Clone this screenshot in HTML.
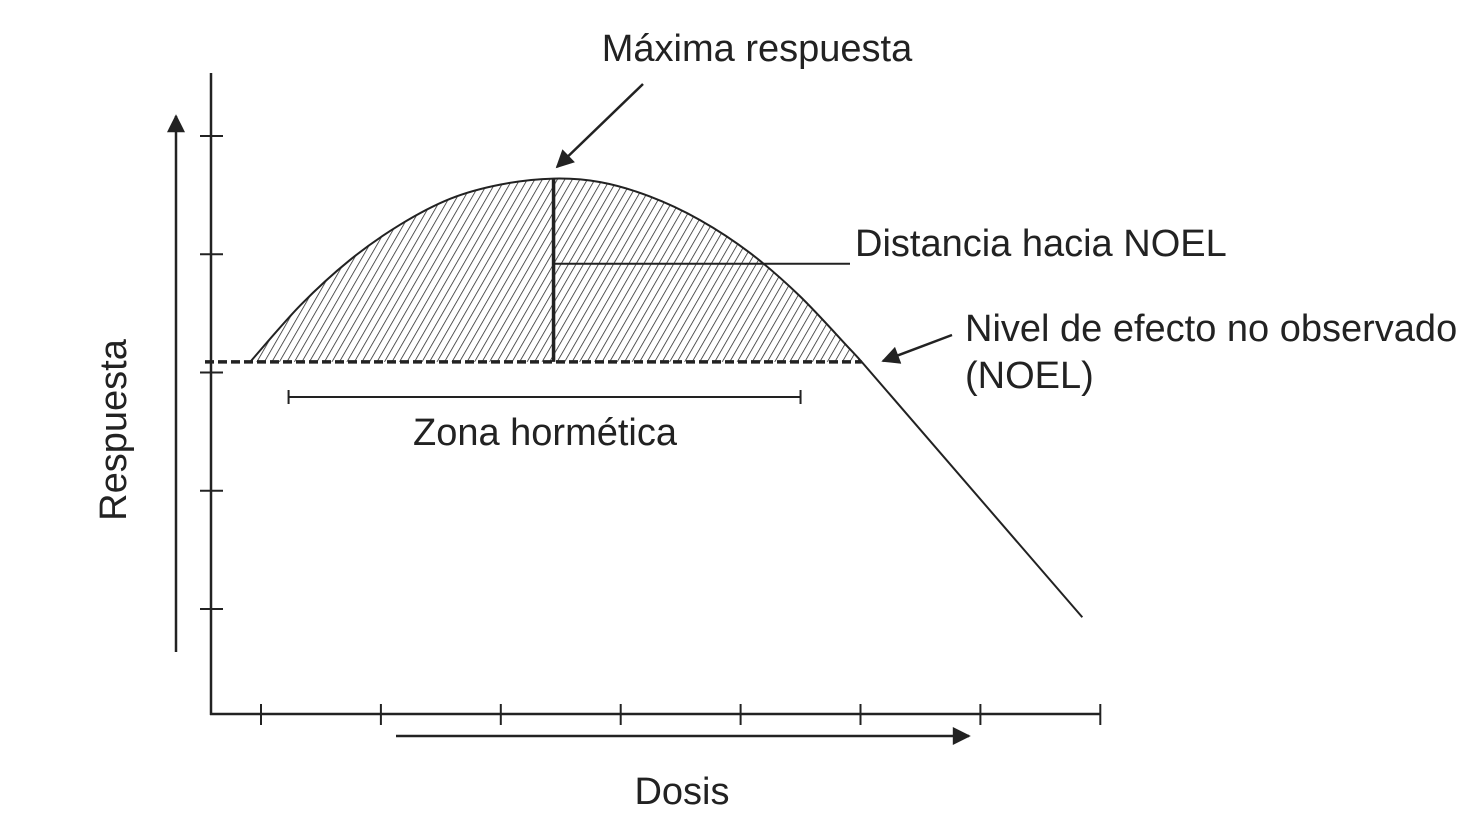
<!DOCTYPE html>
<html><head><meta charset="utf-8"><style>
html,body{margin:0;padding:0;background:#fff;}
svg{display:block;}
text{font-family:"Liberation Sans",Arial,sans-serif;fill:#222;font-size:38px;}
</style></head><body>
<svg id="chart" width="1470" height="822" viewBox="0 0 1470 822">
<defs>
<pattern id="hatch" patternUnits="userSpaceOnUse" width="6.5" height="6.5" patternTransform="rotate(30)">
<line x1="0" y1="0" x2="0" y2="6.5" stroke="#222" stroke-width="1.5"/>
</pattern>
<marker id="ah2" viewBox="0 0 10 10" refX="9" refY="5" markerWidth="24" markerHeight="18" orient="auto" markerUnits="userSpaceOnUse">
<path d="M0,0 L10,5 L0,10 z" fill="#222"/></marker>
</defs>
<g id="layer"></g>
</svg>
<script>
const doses=[0.91,1.33,1.74,2.16,2.58,3.0,3.44,3.83,4.24,4.66,5.08,5.49,5.91,6.01,7.85];
const responses=[2.09,2.57,2.95,3.25,3.47,3.59,3.64,3.61,3.49,3.29,3.01,2.65,2.20,2.09,-0.07];
const xTicks=[1,2,3,4,5,6,7,8];
const yTicks=[0,1,2,3,4];
const noel=2.09;
const peakDose=3.44;
const peakResp=3.64;
const distResp=2.92;
const zoneStart=1.23, zoneEnd=5.5;

const X=d=>261+(d-1)*119.9;
const Y=r=>609-r*118.25;
const NS='http://www.w3.org/2000/svg';
const g=document.getElementById('layer');
function mk(tag,attrs,txt){const e=document.createElementNS(NS,tag);for(const k in attrs)e.setAttribute(k,attrs[k]);if(txt)e.textContent=txt;g.appendChild(e);return e;}

function spline(P){
  let s='M'+P[0][0]+','+P[0][1];
  for(let i=0;i<P.length-1;i++){
    const p0=P[Math.max(i-1,0)],p1=P[i],p2=P[i+1],p3=P[Math.min(i+2,P.length-1)];
    const c1=[p1[0]+(p2[0]-p0[0])/6,p1[1]+(p2[1]-p0[1])/6];
    const c2=[p2[0]-(p3[0]-p1[0])/6,p2[1]-(p3[1]-p1[1])/6];
    s+=`C${c1[0]},${c1[1]} ${c2[0]},${c2[1]} ${p2[0]},${p2[1]}`;
  }
  return s;
}
const arcPts=[],allPts=[];
doses.forEach((v,i)=>{const p=[X(v),Y(responses[i])];allPts.push(p);if(v<=6.01)arcPts.push(p);});

let area=mk('path',{d:spline(arcPts)+'Z',fill:'url(#hatch)',stroke:'none'});



let ya=mk('line',{x1:211,y1:73,x2:211,y2:715,stroke:'#222','stroke-width':2.5});


let xa=mk('line',{x1:210,y1:714,x2:1101,y2:714,stroke:'#222','stroke-width':2.5});


xTicks.forEach(t=>{let l=mk('line',{x1:X(t),y1:704,x2:X(t),y2:725,stroke:'#222','stroke-width':2});

});
yTicks.forEach(t=>{let l=mk('line',{x1:200,y1:Y(t),x2:223,y2:Y(t),stroke:'#222','stroke-width':2});

});

let bl=mk('line',{x1:205,y1:Y(noel),x2:X(6.01),y2:Y(noel),stroke:'#222','stroke-width':3.5,'stroke-dasharray':'9 4'});



// curve: smooth arc + straight tail
const lastArc=arcPts[arcPts.length-1];
const tail=allPts.slice(arcPts.length).map(p=>'L'+p[0]+','+p[1]).join('');
let cv=mk('path',{d:spline(arcPts)+tail,fill:'none',stroke:'#222','stroke-width':2,'stroke-linejoin':'round'});



let pl=mk('line',{x1:X(peakDose),y1:Y(peakResp),x2:X(peakDose),y2:Y(noel),stroke:'#222','stroke-width':3.5});


let dl=mk('line',{x1:X(peakDose),y1:Y(distResp),x2:850,y2:Y(distResp),stroke:'#222','stroke-width':2});



let zy=397;
let zb=mk('path',{d:`M${X(zoneStart)},${zy}H${X(zoneEnd)}M${X(zoneStart)},${zy-7}V${zy+7}M${X(zoneEnd)},${zy-7}V${zy+7}`,stroke:'#222','stroke-width':2,fill:'none'});



let a1=mk('line',{x1:176,y1:652,x2:176,y2:116,stroke:'#222','stroke-width':2.5,'marker-end':'url(#ah2)'});


let a2=mk('line',{x1:396,y1:736,x2:969,y2:736,stroke:'#222','stroke-width':2.5,'marker-end':'url(#ah2)'});


let a3=mk('line',{x1:643,y1:84,x2:557,y2:167,stroke:'#222','stroke-width':2.5,'marker-end':'url(#ah2)'});


let a4=mk('line',{x1:952,y1:335,x2:883,y2:361,stroke:'#222','stroke-width':2.5,'marker-end':'url(#ah2)'});



function lbl(txt,x,y,anchor,name,extra){let t=mk('text',Object.assign({x:x,y:y,'text-anchor':anchor},extra||{}),txt);

return t;}
lbl('Máxima respuesta',757,61,'middle','max-response-label');
lbl('Distancia hacia NOEL',855,256,'start','distance-label');
lbl('Nivel de efecto no observado',965,341,'start','noel-label');
lbl('(NOEL)',965,388,'start','noel-abbrev-label');
lbl('Zona hormética',545,445,'middle','hormetic-zone-label');
lbl('Dosis',682,804,'middle','x-axis-title');
lbl('Respuesta',126,430,'middle','y-axis-title',{transform:'rotate(-90 126 430)'});
</script>
</body></html>
